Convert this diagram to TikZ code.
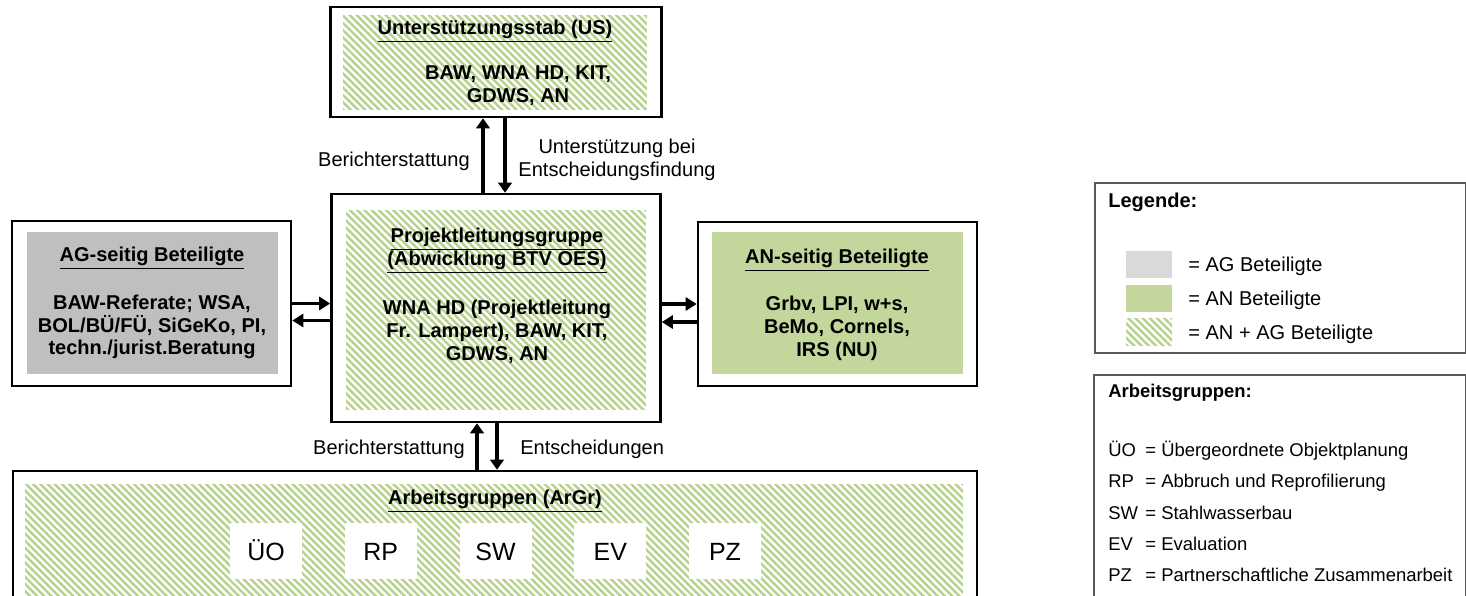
\documentclass[tikz,border=0pt]{standalone}
\usepackage{fontspec}
\setmainfont{Liberation Sans}
\usetikzlibrary{calc,arrows.meta,patterns.meta}
\definecolor{agrey}{HTML}{BFBFBF}
\definecolor{lgrey}{HTML}{D9D9D9}
\definecolor{angreen}{HTML}{C3D69B}
\definecolor{hatchgreen}{HTML}{B6D28C}
\newcommand\mainsize{\fontsize{11.4}{13}\selectfont}
\newcommand\listsize{\fontsize{10.5}{12}\selectfont}

\begin{document}
\begin{tikzpicture}[x=0.02cm,y=-0.02cm,font=\mainsize,
    outerbox/.style={draw=black,line width=1.5pt,fill=white,inner sep=0pt},
    hatch/.style={pattern={Lines[angle=-45,distance=2.9pt,line width=1.4pt]},pattern color=hatchgreen,inner sep=0pt},
    flat/.style={fill=#1,inner sep=0pt},
    boxtitle/.style={font=\mainsize\bfseries,align=center},
    boxbody/.style={font=\mainsize\bfseries,align=center},
    flowtext/.style={font=\mainsize,align=center,inner sep=0pt},
    bigarrow/.style={line width=2.2pt,-{Triangle[length=0.2cm,width=0.27cm]}},
    sidearrow/.style={line width=2pt,-{Triangle[length=0.22cm,width=0.26cm]}},
    groupbox/.style={fill=white,minimum width=1.44cm,minimum height=1.12cm,text height=10.5pt,text depth=0pt,font=\fontsize{14.2}{16}\selectfont},
    legbox/.style={draw=black!65,line width=0.8pt,inner sep=0pt},
    swatch/.style={minimum width=0.92cm,minimum height=0.54cm,inner sep=0pt},
    legtext/.style={anchor=west,inner sep=0pt,text height=8pt,text depth=2.5pt}]
  \useasboundingbox (0,0) rectangle (1466,595);
  \clip (0,0) rectangle (1466,595);

  \node[outerbox,minimum width=6.62cm,minimum height=2.2cm] (us) at (496,62) {};
  \node[hatch,minimum width=6.08cm,minimum height=1.9cm] (usfill) at (495,62.5) {};
  \node[boxtitle] (ustitle) at (495,31) {\underline{Unterstützungsstab (US)}};
  \node[boxbody] (usbody) at (518,86) {BAW, WNA HD, KIT,\\GDWS, AN};

  \node[outerbox,minimum width=6.58cm,minimum height=4.56cm] (plg) at (496,308) {};
  \node[hatch,minimum width=6cm,minimum height=4cm] (plgfill) at (496,310) {};
  \node[boxtitle] (plgtitle) at (497,251) {\underline{Projektleitungsgruppe}\\\underline{(Abwicklung BTV OES)}};
  \node[boxbody] (plgbody) at (497,332) {WNA HD (Projektleitung\\Fr. Lampert), BAW, KIT,\\GDWS, AN};

  \node[outerbox,minimum width=5.58cm,minimum height=3.3cm] (ag) at (151.5,303.5) {};
  \node[flat=agrey,minimum width=5.02cm,minimum height=2.84cm] (agfill) at (152.5,303) {};
  \node[boxtitle] (agtitle) at (152,258) {\underline{AG-seitig Beteiligte}};
  \node[boxbody] (agbody) at (152,327) {BAW-Referate; WSA,\\BOL/BÜ/FÜ, SiGeKo, PI,\\techn./jurist.Beratung};

  \node[outerbox,minimum width=5.58cm,minimum height=3.28cm] (an) at (837.5,304) {};
  \node[flat=angreen,minimum width=5.02cm,minimum height=2.84cm] (anfill) at (837.5,303) {};
  \node[boxtitle] (antitle) at (837,260) {\underline{AN-seitig Beteiligte}};
  \node[boxbody] (anbody) at (837,328) {Grbv, LPI, w+s,\\BeMo, Cornels,\\IRS (NU)};

  \node[outerbox,minimum width=19.28cm,minimum height=2.98cm] (argr) at (495,545.5) {};
  \node[hatch,minimum width=18.76cm,minimum height=2.52cm] (argrfill) at (494,547) {};
  \node[boxtitle] (argrtitle) at (495,501) {\underline{Arbeitsgruppen (ArGr)}};
  \foreach \grp [count=\i] in {ÜO,RP,SW,EV,PZ}
    \node[groupbox] (grp\i) at ({151.25+114.75*\i},551) {\grp};

  \coordinate (upx) at (483,0);
  \coordinate (downx) at (505,0);
  \draw[bigarrow] (upx |- plg.north) -- (upx |- us.south);
  \draw[bigarrow] (downx |- us.south) -- (downx |- plg.north);
  \node[flowtext,anchor=east] (usreport) at (470,161) {Berichterstattung};
  \node[flowtext] (ussupport) at (617,160) {Unterstützung bei\\Entscheidungsfindung};

  \coordinate (agback) at ($(ag.east)+(0,17)$);
  \draw[sidearrow] (ag.east) -- (ag.east -| plg.west);
  \draw[sidearrow] (agback -| plg.west) -- (agback);
  \coordinate (anback) at ($(an.west)+(0,18)$);
  \draw[sidearrow] (an.west -| plg.east) -- (an.west);
  \draw[sidearrow] (anback) -- (anback -| plg.east);

  \coordinate (argrup) at (477,0);
  \coordinate (argrdown) at (497,0);
  \draw[bigarrow] (argrup |- argr.north) -- (argrup |- plg.south);
  \draw[bigarrow] (argrdown |- plg.south) -- (argrdown |- argr.north);
  \node[flowtext,anchor=east] (argrreport) at (465,449) {Berichterstattung};
  \node[flowtext,anchor=west] (argrdecide) at (520,449) {Entscheidungen};

  \node[legbox,minimum width=7.42cm,minimum height=3.4cm] (legend) at (1280.5,268) {};
  \node[legtext,font=\mainsize\bfseries] (legtitle) at (1108,203) {Legende:};
  \node[swatch,fill=lgrey] (swag) at (1149,264.5) {};
  \node[swatch,fill=angreen] (swan) at (1149,298) {};
  \node[swatch,hatch] (swboth) at (1149,331.5) {};
  \node[legtext] (legag) at (1188,267) {= AG Beteiligte};
  \node[legtext] (legan) at (1188,301) {= AN Beteiligte};
  \node[legtext] (legboth) at (1188,335) {= AN + AG Beteiligte};

  \node[legbox,minimum width=7.44cm,minimum height=4.9cm] (grplegend) at (1280,497.5) {};
  \node[legtext,font=\listsize\bfseries] (grptitle) at (1108,393) {Arbeitsgruppen:};
  \foreach \ab/\desc/\yy in {ÜO/Übergeordnete Objektplanung/452,RP/Abbruch und Reprofilierung/483,SW/Stahlwasserbau/515,EV/Evaluation/546,PZ/Partnerschaftliche Zusammenarbeit/577}{
    \node[legtext,font=\listsize] (ab\yy) at (1108,\yy) {\ab};
    \node[legtext,font=\listsize] (desc\yy) at (1145,\yy) {= \desc};
  }
\end{tikzpicture}
\end{document}
